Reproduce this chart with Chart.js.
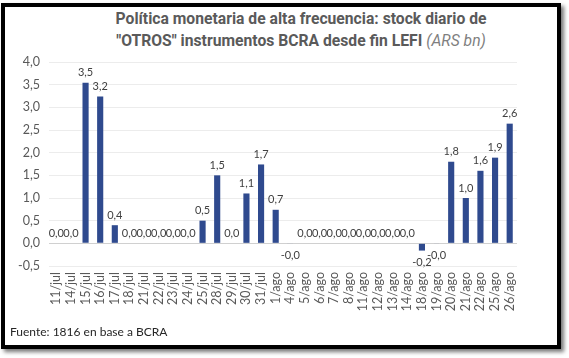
<!DOCTYPE html>
<html>
<head>
<meta charset="utf-8">
<script src="https://cdn.jsdelivr.net/npm/chart.js@4"></script>
<style>
  html, body { margin: 0; padding: 0; background: #ffffff; }
  body { width: 569px; height: 358px; position: relative; overflow: hidden; }
  #frame { position: absolute; left: 1px; top: 3px; width: 552px; height: 338px;
           border: 4px solid #000; box-shadow: 3px 3px 4px #777; background: #fff; }
  #title { position: absolute; left: 0; top: 8px; width: 602px; text-align: center;
           font-family: Roboto, "Noto Sans", sans-serif; font-weight: bold; font-size: 15.7px;
           color: #5a5a5a; line-height: 22px; }
  #title i { font-weight: normal; color: #7f7f7f; }
  #source { position: absolute; left: 10px; top: 324px; font-family: Lato, "Open Sans", sans-serif;
            font-size: 12px; color: #262626; }
  #wrap { position: absolute; left: 0; top: 0; width: 569px; height: 358px; }
</style>
</head>
<body>
<div id="frame"></div>
<div id="title">Política monetaria de alta frecuencia: stock diario de<br>"OTROS" instrumentos BCRA desde fin LEFI <i>(ARS bn)</i></div>
<div id="wrap"><canvas id="c" width="569" height="358"></canvas></div>
<div id="source">Fuente: 1816 en base a BCRA</div>
<script>
const categories = ["11/jul","14/jul","15/jul","16/jul","17/jul","18/jul","21/jul","22/jul","23/jul","24/jul","25/jul","28/jul","29/jul","30/jul","31/jul","1/ago","4/ago","5/ago","6/ago","7/ago","8/ago","11/ago","12/ago","13/ago","14/ago","18/ago","19/ago","20/ago","21/ago","22/ago","25/ago","26/ago"];
const values = [0.0, 0.0, 3.54, 3.24, 0.4, 0.0, 0.0, 0.0, 0.0, 0.0, 0.5, 1.5, 0.0, 1.1, 1.74, 0.74, -0.01, 0.0, 0.0, 0.0, 0.0, 0.0, 0.0, 0.0, 0.0, -0.16, -0.01, 1.8, 1.0, 1.6, 1.89, 2.64];
const yTicks = [-0.5, 0.0, 0.5, 1.0, 1.5, 2.0, 2.5, 3.0, 3.5, 4.0];

const fmt = v => v.toFixed(1).replace('.', ',');

const labelPlugin = {
  id: 'barLabels',
  afterDatasetsDraw(chart) {
    const ctx = chart.ctx;
    const meta = chart.getDatasetMeta(0);
    ctx.save();
    ctx.font = '11px Lato, "Open Sans", sans-serif';
    ctx.fillStyle = '#404040';
    ctx.textAlign = 'center';
    ctx.textBaseline = 'middle';
    meta.data.forEach((bar, i) => {
      const v = values[i];
      const txt = fmt(v);
      if (v < 0) {
        ctx.fillText(txt, bar.x, bar.y + 12);
      } else {
        ctx.fillText(txt, bar.x, bar.y - 10);
      }
    });
    ctx.restore();
  }
};

new Chart(document.getElementById('c'), {
  type: 'bar',
  data: {
    labels: categories,
    datasets: [{
      data: values,
      backgroundColor: '#2f4a8e',
      borderWidth: 0,
      barPercentage: 0.42,
      categoryPercentage: 1.0
    }]
  },
  options: {
    responsive: false,
    animation: false,
    devicePixelRatio: 1,
    layout: { padding: { left: 0, right: 52, top: 62, bottom: 0 } },
    plugins: { legend: { display: false }, tooltip: { enabled: false }, title: { display: false } },
    scales: {
      y: {
        min: -0.5, max: 4.0,
        afterFit: s => { s.width = 49; },
        afterBuildTicks: s => { s.ticks = yTicks.map(v => ({ value: v })); },
        ticks: {
          padding: 9,
          color: '#595959',
          font: { family: 'Lato, "Open Sans", sans-serif', size: 12.5 },
          callback: v => fmt(v)
        },
        grid: {
          drawTicks: false,
          color: ctx => (ctx.tick && ctx.tick.value === 0) ? '#d0d0d0' : '#ececec',
          lineWidth: 1
        },
        border: { display: false }
      },
      x: {
        afterFit: s => { s.height = 92; },
        ticks: {
          minRotation: 90, maxRotation: 90, autoSkip: false,
          padding: 6,
          color: '#595959',
          font: { family: 'Lato, "Open Sans", sans-serif', size: 12.5 }
        },
        grid: { display: false, drawTicks: false },
        border: { display: false }
      }
    }
  },
  plugins: [labelPlugin]
});
</script>
</body>
</html>
